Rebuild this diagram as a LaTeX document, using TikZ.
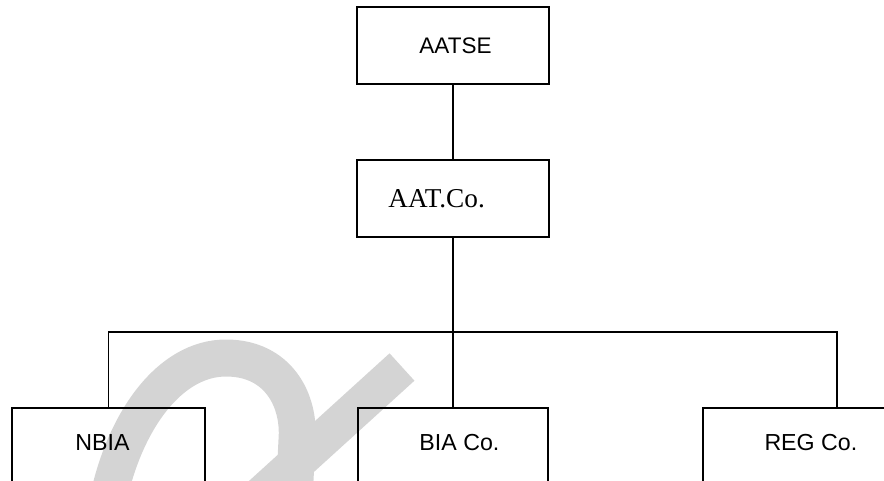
\documentclass[tikz,border=0pt]{standalone}
\usepackage{fontspec}
\newfontfamily\sansfont{Liberation Sans}
\newfontfamily\seriffont{Liberation Serif}
\usepackage{tikz}
\usetikzlibrary{positioning}

\tikzset{
  unit/.style={draw, line width=1pt, minimum width=3.86cm, minimum height=1.54cm, inner sep=0pt},
  tag/.style={inner sep=0pt, anchor=west, font=\sansfont\fontsize{13.2}{15}\selectfont},
  link/.style={draw, line width=1pt},
  swoosh/.style={draw=black!17, line width=0.74cm}
}

\begin{document}
\begin{tikzpicture}[x=0.02cm, y=-0.02cm]

\path[use as bounding box, clip] (0,0) rectangle (884,480);

% grey mark in the background
\draw[swoosh] (108,500) .. controls (125,420) and (170,358) .. (226,358)
  .. controls (278,358) and (300,400) .. (297,440) -- (294,500);
\draw[swoosh] (402,367) -- (250,505);

% top
\node[unit, minimum width=3.84cm, label={[tag, xshift=1.26cm, font=\sansfont\fontsize{12.8}{15}\selectfont]west:AATSE}] (aatse) at (453,45.5) {};

% middle
\node[unit, minimum width=3.84cm, label={[tag, xshift=0.64cm, font=\seriffont\fontsize{15.5}{18}\selectfont]west:AAT.Co.}] (aatco) at (453,198.5) {};

%connection top and middle
\draw[link] (aatse) -- (aatco);

% branch point
\coordinate (bus) at (453,332);

% bottom row
\node[unit, label={[tag, xshift=1.28cm, yshift=0.07cm]west:NBIA}] (nbia) at (108.5,446.5) {};
\node[unit, minimum width=3.8cm, label={[tag, xshift=1.24cm, yshift=0.07cm]west:BIA Co.}] (bia) at (453,446.5) {};
\node[unit, minimum width=5.36cm, label={[tag, xshift=1.24cm, yshift=0.07cm]west:REG Co.}] (reg) at (837,446.5) {};

% connections to the bottom row
\draw[link] (aatco) -- (bus);
\draw[link] (bus) -- (bia);
\draw[link] (nbia.north) |- (bus) -| (reg.north);

\end{tikzpicture}
\end{document}
